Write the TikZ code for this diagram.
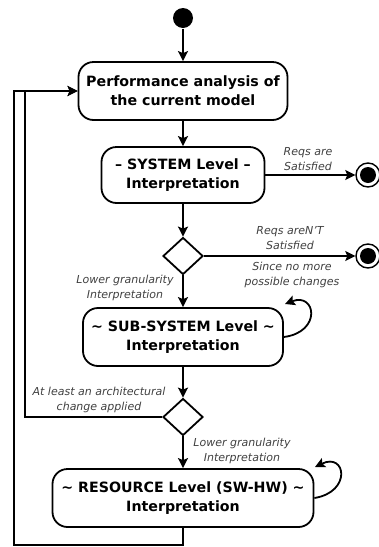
\documentclass[tikz,border=0pt]{standalone}
\usepackage{fontspec}
\setmainfont{DejaVu Sans}
\usetikzlibrary{shapes.geometric,arrows.meta}
\begin{document}
\begin{tikzpicture}[x=1pt,y=-1pt,
  line width=1.8pt,
  act/.style={draw, rounded corners=15pt, align=center, font=\bfseries\fontsize{14.2}{19}\selectfont, inner sep=0pt, minimum height=58pt},
  lbl/.style={align=center, font=\itshape\fontsize{11}{15}\selectfont, text=black!75},
  dec/.style={draw, diamond, minimum width=40pt, minimum height=37pt, inner sep=0pt},
  fin/.style={circle, draw, minimum size=24pt, inner sep=0pt, line width=1.4pt, path picture={\fill (path picture bounding box.center) circle (8pt);}},
  arr/.style={-{Stealth[length=10pt,width=10pt,inset=2pt]}},
]
\useasboundingbox (0,0) rectangle (379,547);
\node[fill, circle, minimum size=20pt, inner sep=0pt] (start) at (183,18) {};
\node[act, minimum width=209pt] (b1) at (183,91) {Performance analysis of\\the current model};
\node[act, minimum width=163pt, minimum height=56pt] (b2) at (183,175) {– SYSTEM Level –\\Interpretation};
\node[dec] (d1) at (183,256) {};
\node[act, minimum width=200pt] (b3) at (183,337) {\textasciitilde{} SUB-SYSTEM Level \textasciitilde\\Interpretation};
\node[dec] (d2) at (183,417) {};
\node[act, minimum width=261pt] (b4) at (183,498) {\textasciitilde{} RESOURCE Level (SW-HW) \textasciitilde\\Interpretation};
\node[fin] (f1) at (368,175) {};
\node[fin] (f2) at (368,256) {};
\node[lbl] (l1) at (308,159) {Reqs are\\Satisfied};
\node[lbl] (l2) at (290,238) {Reqs areN'T\\Satisfied};
\node[lbl] (l3) at (292,275) {Since no more\\possible changes};
\node[lbl] (l4) at (125,288) {Lower granularity\\Interpretation};
\node[lbl] (l5) at (99,400) {At least an architectural\\change applied};
\node[lbl] (l6) at (242,451) {Lower granularity\\Interpretation};
\coordinate (c1) at (25,91);
\coordinate (c2) at (14,545);
\coordinate (c3) at (183,545);
\coordinate (t3) at (285,304);
\coordinate (t4) at (315,467);
\draw[arr] (start) -- (b1);
\draw[arr] (b1) -- (b2);
\draw[arr] (b2) -- (f1);
\draw[arr] (b2) -- (d1);
\draw[arr] (d1) -- (f2);
\draw[arr] (d1) -- (b3);
\draw[arr] (b3) -- (d2);
\draw[arr] (d2) -- (b4);
\draw[arr] (d2.west) -| (c1) -- (b1.west);
\draw[arr] (b4.south) -- (c3) -- (c2) |- (b1.west);
\draw[arr] (b3.east) .. controls (322,332) and (316,292) .. (t3);
\draw[arr] (b4.east) .. controls (352,492) and (346,452) .. (t4);
\end{tikzpicture}
\end{document}
